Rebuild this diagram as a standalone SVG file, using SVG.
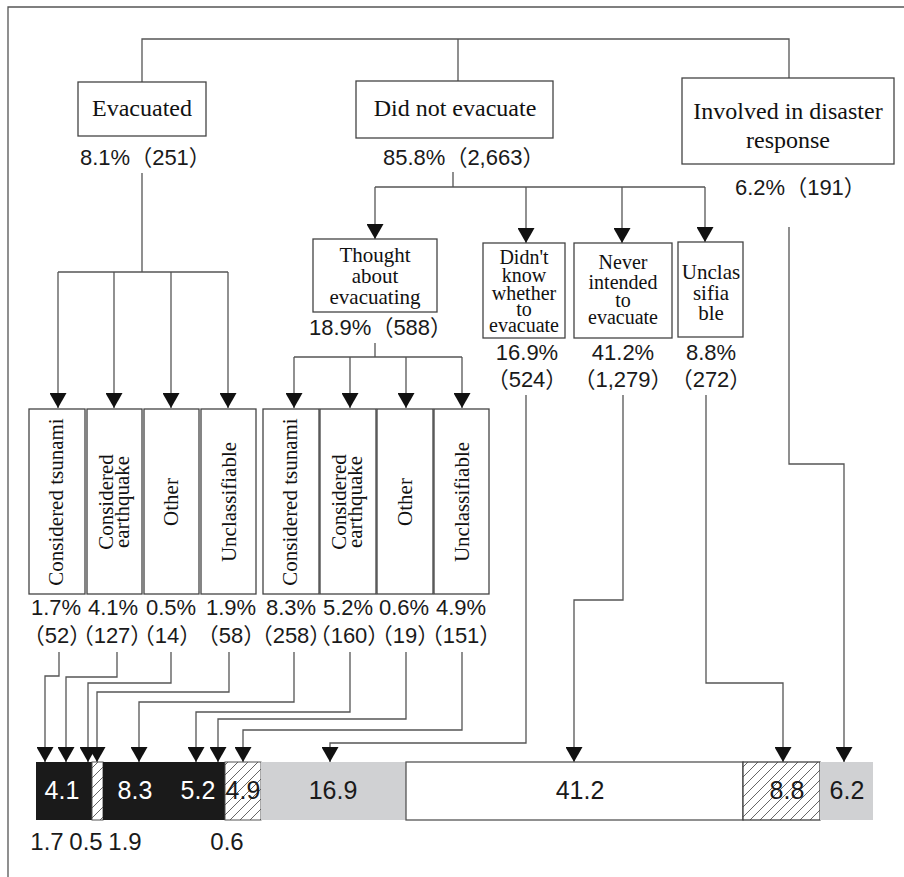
<svg xmlns="http://www.w3.org/2000/svg" width="904" height="877" viewBox="0 0 904 877">
<defs>
<style>
.ln{fill:none;stroke:#555;stroke-width:1.3}
.ar{fill:none;stroke:#555;stroke-width:1.3;marker-end:url(#ah)}
.box{fill:#fff;stroke:#444;stroke-width:1.3}
.sf{font-family:"Liberation Serif","Times New Roman",serif;fill:#111}
.ss{font-family:"Liberation Sans","Noto Sans CJK JP",sans-serif;fill:#1a1a1a}
.s24{font-size:24px}
.s21{font-size:21px}
.s20{font-size:20px}
.n22{font-size:22px}
.bt{font-size:25px;text-anchor:middle}
.m{text-anchor:middle}
</style>
<marker id="ah" viewBox="0 0 15 17" refX="15" refY="8.5" markerWidth="15" markerHeight="17" markerUnits="userSpaceOnUse" orient="auto">
<path d="M0,0 L15,8.5 L0,17 z" fill="#111"/>
</marker>
<pattern id="hatch" patternUnits="userSpaceOnUse" width="10" height="10">
<rect width="10" height="10" fill="#fff"/>
<path d="M0,10 L10,0 M-1,1 L1,-1 M9,11 L11,9" stroke="#555" stroke-width="0.9"/>
</pattern>
</defs>
<rect width="904" height="877" fill="#fff"/>
<path class="ln" d="M8,877 V7 H904"/>

<g id="connectors">
<path class="ln" d="M142,82 V39 H789 V78 M458,39 V81"/>
<path class="ln" d="M142,173 V272 M58,272 H228"/>
<path class="ar" d="M58,272 V408"/>
<path class="ar" d="M114,272 V408"/>
<path class="ar" d="M171,272 V408"/>
<path class="ar" d="M228,272 V408"/>
<path class="ln" d="M453,172 V187 M375,187 H705"/>
<path class="ar" d="M375,187 V239"/>
<path class="ar" d="M526,187 V243"/>
<path class="ar" d="M622,187 V243"/>
<path class="ar" d="M705,187 V242"/>
<path class="ln" d="M375,343 V357 M294,357 H462"/>
<path class="ar" d="M294,357 V408"/>
<path class="ar" d="M350,357 V408"/>
<path class="ar" d="M406,357 V408"/>
<path class="ar" d="M462,357 V408"/>
<path class="ar" d="M59,652 V676 H45 V762"/>
<path class="ar" d="M117,652 V677 H66 V762"/>
<path class="ar" d="M171,652 V683 H88 V762"/>
<path class="ar" d="M229,652 V692 H97 V762"/>
<path class="ar" d="M294,652 V702 H139 V762"/>
<path class="ar" d="M350,652 V712 H196 V762"/>
<path class="ar" d="M406,652 V719 H218 V762"/>
<path class="ar" d="M462,652 V730 H243 V762"/>
<path class="ar" d="M526,395 V743 H330 V762"/>
<path class="ar" d="M623,395 V600 H574 V762"/>
<path class="ar" d="M706,395 V683 H783 V762"/>
<path class="ar" d="M789,227 V464 H844 V762"/>
</g>

<g id="evacuated">
<rect class="box" x="78" y="82" width="128" height="54"/>
<text class="sf s24 m" x="142" y="116">Evacuated</text>
<text class="ss n22" x="80" y="165">8.1%（251）</text>
</g>
<g id="did-not-evacuate">
<rect class="box" x="356" y="81" width="197" height="57"/>
<text class="sf s24 m" x="455" y="116">Did not evacuate</text>
<text class="ss n22" x="383" y="165">85.8%（2,663）</text>
</g>
<g id="disaster-response">
<rect class="box" x="682" y="78" width="212" height="86"/>
<text class="sf s24 m" x="788" y="119">Involved in disaster</text>
<text class="sf s24 m" x="788" y="148">response</text>
<text class="ss n22" x="735" y="195">6.2%（191）</text>
</g>
<g id="thought">
<rect class="box" x="313" y="239" width="124" height="73"/>
<text class="sf s21 m" x="375" y="262">Thought</text>
<text class="sf s21 m" x="375" y="283">about</text>
<text class="sf s21 m" x="375" y="304">evacuating</text>
<text class="ss n22" x="309" y="335">18.9%（588）</text>
</g>
<g id="didnt-know">
<rect class="box" x="483" y="243" width="82" height="95"/>
<text class="sf s20 m" x="524" y="264">Didn't</text>
<text class="sf s20 m" x="524" y="282">know</text>
<text class="sf s20 m" x="524" y="300">whether</text>
<text class="sf s20 m" x="524" y="316">to</text>
<text class="sf s20 m" x="524" y="332">evacuate</text>
<text class="ss n22 m" x="527" y="360">16.9%</text>
<text class="ss n22 m" x="527" y="387">（524）</text>
</g>
<g id="never-intended">
<rect class="box" x="574" y="243" width="98" height="95"/>
<text class="sf s20 m" x="623" y="269">Never</text>
<text class="sf s20 m" x="623" y="289">intended</text>
<text class="sf s20 m" x="623" y="307">to</text>
<text class="sf s20 m" x="623" y="324">evacuate</text>
<text class="ss n22 m" x="623" y="360">41.2%</text>
<text class="ss n22 m" x="623" y="387">（1,279）</text>
</g>
<g id="unclassifiable-top">
<rect class="box" x="678" y="242" width="65" height="95"/>
<text class="sf s21 m" x="711" y="279">Unclas</text>
<text class="sf s21 m" x="711" y="300">sifia</text>
<text class="sf s21 m" x="711" y="320">ble</text>
<text class="ss n22 m" x="711" y="360">8.8%</text>
<text class="ss n22 m" x="711" y="387">（272）</text>
</g>

<g id="e-tsunami">
<rect class="box" x="29" y="409" width="56" height="185"/>
<text class="sf s21 m" transform="translate(63,502) rotate(-90)">Considered tsunami</text>
<text class="ss n22 m" x="56" y="615">1.7%</text>
<text class="ss n22 m" x="57" y="643">（52）</text>
</g>
<g id="e-earthquake">
<rect class="box" x="87" y="409" width="55" height="185"/>
<text class="sf s21 m" transform="translate(113,502) rotate(-90)">Considered<tspan x="0" dy="16">earthquake</tspan></text>
<text class="ss n22 m" x="113" y="615">4.1%</text>
<text class="ss n22 m" x="112" y="643">（127）</text>
</g>
<g id="e-other">
<rect class="box" x="144" y="409" width="55" height="185"/>
<text class="sf s21 m" transform="translate(178,502) rotate(-90)">Other</text>
<text class="ss n22 m" x="171" y="615">0.5%</text>
<text class="ss n22 m" x="167" y="643">（14）</text>
</g>
<g id="e-unclassifiable">
<rect class="box" x="201" y="409" width="55" height="185"/>
<text class="sf s21 m" transform="translate(236,502) rotate(-90)">Unclassifiable</text>
<text class="ss n22 m" x="231" y="615">1.9%</text>
<text class="ss n22 m" x="231" y="643">（58）</text>
</g>
<g id="t-tsunami">
<rect class="box" x="263" y="409" width="56" height="185"/>
<text class="sf s21 m" transform="translate(297,502) rotate(-90)">Considered tsunami</text>
<text class="ss n22 m" x="291" y="615">8.3%</text>
<text class="ss n22 m" x="291" y="643">（258）</text>
</g>
<g id="t-earthquake">
<rect class="box" x="320" y="409" width="56" height="185"/>
<text class="sf s21 m" transform="translate(346,502) rotate(-90)">Considered<tspan x="0" dy="16">earthquake</tspan></text>
<text class="ss n22 m" x="348" y="615">5.2%</text>
<text class="ss n22 m" x="349" y="643">（160）</text>
</g>
<g id="t-other">
<rect class="box" x="377" y="409" width="56" height="185"/>
<text class="sf s21 m" transform="translate(412,502) rotate(-90)">Other</text>
<text class="ss n22 m" x="404" y="615">0.6%</text>
<text class="ss n22 m" x="405" y="643">（19）</text>
</g>
<g id="t-unclassifiable">
<rect class="box" x="434" y="409" width="55" height="185"/>
<text class="sf s21 m" transform="translate(469,502) rotate(-90)">Unclassifiable</text>
<text class="ss n22 m" x="461" y="615">4.9%</text>
<text class="ss n22 m" x="461" y="643">（151）</text>
</g>

<g id="bar">
<rect x="36" y="762" width="56" height="58" fill="#1a1a1a"/>
<rect x="92" y="762" width="11" height="58" fill="url(#hatch)" stroke="#555" stroke-width="1"/>
<rect x="103" y="762" width="122" height="58" fill="#1a1a1a"/>
<rect x="225" y="762" width="36" height="58" fill="url(#hatch)" stroke="#555" stroke-width="1"/>
<rect x="261" y="762" width="145" height="58" fill="#d0d1d3"/>
<rect x="406" y="762" width="337" height="58" fill="#fff" stroke="#555" stroke-width="1.3"/>
<rect x="743" y="762" width="77" height="58" fill="url(#hatch)" stroke="#444" stroke-width="1.3"/>
<rect x="820" y="762" width="53" height="58" fill="#d0d1d3"/>
<text class="ss bt" x="62" y="799" style="fill:#fff">4.1</text>
<text class="ss bt" x="135" y="799" style="fill:#fff">8.3</text>
<text class="ss bt" x="198" y="799" style="fill:#fff">5.2</text>
<text class="ss bt" x="243" y="799">4.9</text>
<text class="ss bt" x="333" y="799">16.9</text>
<text class="ss bt" x="580" y="799">41.2</text>
<text class="ss bt" x="787" y="799">8.8</text>
<text class="ss bt" x="847" y="799">6.2</text>
<text class="ss m" font-size="24" x="47" y="850">1.7</text>
<text class="ss m" font-size="24" x="86" y="850">0.5</text>
<text class="ss m" font-size="24" x="125" y="850">1.9</text>
<text class="ss m" font-size="24" x="227" y="850">0.6</text>
</g>
</svg>
